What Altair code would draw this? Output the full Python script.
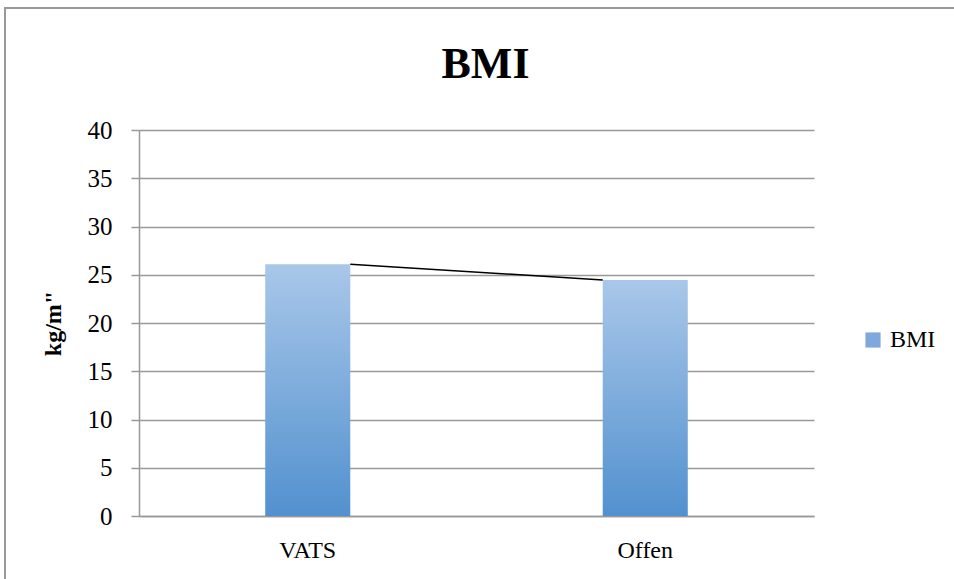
import altair as alt
import pandas as pd

categories = ["VATS", "Offen"]
values = [26.1, 24.45]
series_name = "BMI"

bars = pd.DataFrame({"group": categories, "value": values, "series": [series_name] * len(categories)})
link = pd.DataFrame({"a": [categories[0]], "b": [categories[1]], "ya": [values[0]], "yb": [values[1]]})

FONT = "Liberation Serif"
BAR_W = 85
YTITLE = "kg/m\""

grad = alt.Gradient(
    gradient="linear",
    stops=[alt.GradientStop(color="#a9c7e9", offset=0), alt.GradientStop(color="#5291cf", offset=1)],
    x1=0, x2=0, y1=0, y2=1,
)

xscale = alt.Scale(domain=categories, paddingInner=0.748, paddingOuter=0.374)
yscale = alt.Scale(domain=[0, 40])

frame = alt.Chart(pd.DataFrame({"k": [0]})).mark_rect(
    fill=None, stroke="#999999", strokeWidth=2, clip=False
).encode(x=alt.value(-134), x2=alt.value(830), y=alt.value(-122), y2=alt.value(470))

bar_layer = alt.Chart(bars).mark_bar(fill=grad).encode(
    x=alt.X("group:N", scale=xscale, sort=categories, axis=alt.Axis(title=None)),
    y=alt.Y("value:Q", scale=yscale, axis=alt.Axis(title=YTITLE, values=list(range(0, 41, 5)))),
)

legend_layer = alt.Chart(bars).mark_square(opacity=0, size=1).encode(
    x=alt.X("group:N", scale=xscale, sort=categories, axis=alt.Axis(title=None)),
    y=alt.Y("value:Q", scale=yscale, axis=alt.Axis(title=YTITLE, values=list(range(0, 41, 5)))),
    color=alt.Color("series:N", scale=alt.Scale(range=["#7fa9dd"]),
                    legend=alt.Legend(title=None, orient="none", legendX=722, legendY=198,
                                      symbolType="square", symbolSize=230, symbolOpacity=1,
                                      symbolStrokeWidth=0, labelFont=FONT, labelFontSize=24,
                                      labelColor="#000000", labelOffset=5)),
)

line_layer = alt.Chart(link).mark_rule(color="#000000", strokeWidth=1.5,
                                        xOffset=BAR_W / 2, x2Offset=-BAR_W / 2).encode(
    x=alt.X("a:N", scale=xscale, axis=alt.Axis(title=None)),
    x2="b:N",
    y=alt.Y("ya:Q", scale=yscale, axis=alt.Axis(title=YTITLE, values=list(range(0, 41, 5)))),
    y2="yb:Q",
)

chart = alt.layer(frame, bar_layer, line_layer, legend_layer).properties(
    width=675,
    height=386,
    background="#ffffff",
    padding={"left": 139, "top": 130, "right": 140, "bottom": 63},
    autosize=alt.AutoSizeParams(type="none"),
    title=alt.TitleParams("BMI", font=FONT, fontSize=44, fontWeight="bold", color="#000000",
                          anchor="middle", frame="group", dx=9, dy=80, offset=0),
).configure(font=FONT).configure_view(stroke=None).configure_axis(
    labelFont=FONT, titleFont=FONT, labelColor="#000000", titleColor="#000000",
    domainColor="#999999", domainWidth=1.5,
).configure_axisX(
    labelAngle=0, ticks=False, labelPadding=22, labelFontSize=24, grid=False,
).configure_axisY(
    grid=True, gridColor="#999999", gridWidth=1.4, tickColor="#999999", tickSize=8,
    tickWidth=1.5, labelFontSize=25, labelPadding=19, titleFontSize=24,
    titleFontWeight="bold", titlePadding=22,
)

chart.save("out.html", embed_options={"renderer": "svg", "actions": False})
